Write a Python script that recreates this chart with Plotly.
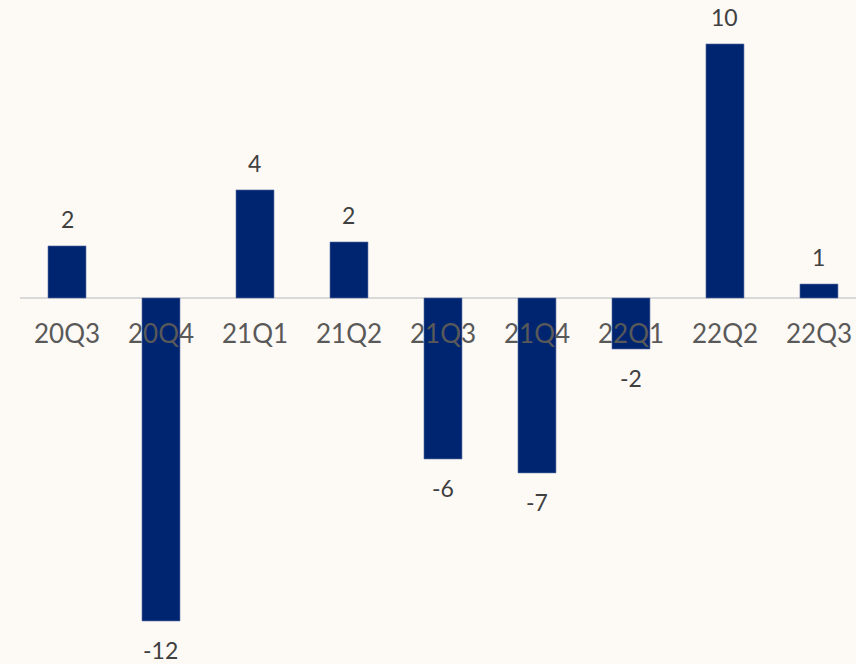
import plotly.graph_objects as go

quarters = ["20Q3", "20Q4", "21Q1", "21Q2", "21Q3", "21Q4", "22Q1", "22Q2", "22Q3"]
values = [1.98, -12.28, 4.11, 2.13, -6.12, -6.65, -1.94, 9.66, 0.53]

BG = "#fdf9f5"
BAR = "#002570"

fig = go.Figure()
fig.add_trace(go.Bar(
    x=quarters, y=values,
    marker=dict(color=BAR, line=dict(color="#5a6ea3", width=0.6)),
    hoverinfo="skip",
))

annotations = []
for q, v in zip(quarters, values):
    annotations.append(dict(
        x=q, y=v, xref="x", yref="y", text=f"{round(v):d}",
        showarrow=False, yanchor="middle",
        yshift=27 if v >= 0 else -29,
        font=dict(family="Lato", size=23, color="#404040"),
    ))
    annotations.append(dict(
        x=q, y=0, xref="x", yref="y", text=q,
        showarrow=False, yanchor="middle", yshift=-35,
        font=dict(family="Lato", size=26, color="#595959"),
    ))

fig.update_layout(
    width=856, height=664,
    margin=dict(l=20, r=0, t=0, b=0),
    paper_bgcolor=BG, plot_bgcolor=BG,
    bargap=0.596,
    showlegend=False,
    annotations=annotations,
    xaxis=dict(range=[-0.5, 8.394], showticklabels=False, showgrid=False,
               zeroline=False, showline=False, ticks=""),
    yaxis=dict(range=[-13.916, 11.331], showticklabels=False, showgrid=False,
               zeroline=True, zerolinecolor="#d9d9d9", zerolinewidth=2,
               showline=False, ticks=""),
)

fig.write_html(
    "out.html",
    config={"displayModeBar": False},
    post_script="document.body.style.margin='0';document.body.style.background='%s';" % BG,
)
